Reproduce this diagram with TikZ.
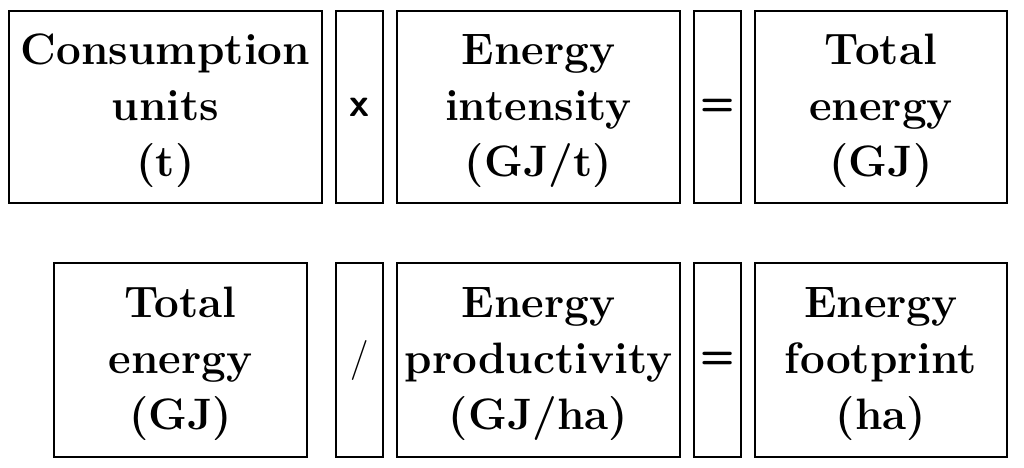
\documentclass[tikz,border=0pt]{standalone}
\begin{document}
\begin{tikzpicture}[x=1pt,y=-1pt,
  box/.style={draw=black,line width=2.5pt,rectangle,inner sep=0pt,align=center,
    font=\fontsize{44}{56}\selectfont\bfseries},
  opbox/.style={draw=black,line width=2.5pt,rectangle,inner sep=0pt,
    font=\fontsize{40}{48}\selectfont\sffamily\bfseries},
  txt/.style={inner sep=0pt,align=center,font=\fontsize{44}{56}\selectfont\bfseries}]
\useasboundingbox (0,0) rectangle (1024,467);
\fill[white] (0,0) rectangle (1024,467);
% row 1
\node[box,minimum width=313pt,minimum height=192pt] (cu) at (165.5,107) {};
\node[txt] (cut) at ([yshift=-4pt]cu.center) {Consumption\\units\\(t)};
\node[opbox,minimum width=47pt,minimum height=192pt] (times) at (359.5,107) {x};
\node[box,minimum width=283pt,minimum height=192pt] (ei) at (538.5,107) {};
\node[txt] (eit) at ([yshift=-4pt]ei.center) {Energy\\intensity\\(GJ/t)};
\node[opbox,minimum width=47pt,minimum height=192pt] (eq1) at (717.5,107) {=};
\node[box,minimum width=252pt,minimum height=192pt] (te1) at (881,107) {};
\node[txt] (te1t) at ([yshift=-4pt]te1.center) {Total\\energy\\(GJ)};
% row 2
\node[box,minimum width=253pt,minimum height=194pt] (te2) at (180.5,360) {};
\node[txt] (te2t) at ([yshift=-4pt]te2.center) {Total\\energy\\(GJ)};
\node[opbox,minimum width=47pt,minimum height=194pt,font=\fontsize{40}{48}\selectfont\rmfamily] (div) at (359.5,360) {/};
\node[box,minimum width=283pt,minimum height=194pt] (ep) at (538.5,360) {};
\node[txt] (ept) at ([yshift=-4pt]ep.center) {Energy\\productivity\\(GJ/ha)};
\node[opbox,minimum width=47pt,minimum height=194pt] (eq2) at (717.5,360) {=};
\node[box,minimum width=252pt,minimum height=194pt] (ef) at (881,360) {};
\node[txt] (eft) at ([yshift=-4pt]ef.center) {Energy\\footprint\\(ha)};
\end{tikzpicture}
\end{document}
